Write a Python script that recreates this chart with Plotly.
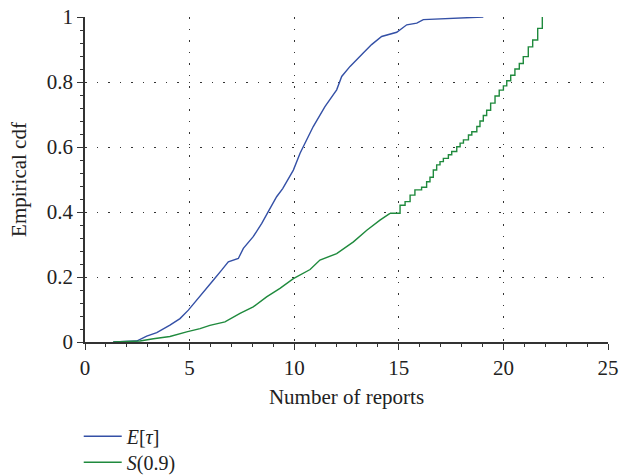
import plotly.graph_objects as go

# E[tau] empirical cdf
e_tau_x = [1.35, 2.47, 2.95, 3.43, 4.06, 4.54, 4.94, 5.42, 5.74, 6.13, 6.53, 6.85, 7.33, 7.57,
           8.04, 8.45, 8.76, 9.16, 9.45, 9.96, 10.28, 10.60, 10.91, 11.47, 12.03, 12.27, 12.67,
           13.30, 13.70, 14.18, 14.90, 15.38, 15.86, 16.17, 17.45, 19.04]
e_tau_y = [0.0, 0.003, 0.018, 0.029, 0.052, 0.072, 0.098, 0.134, 0.159, 0.190, 0.221, 0.247, 0.257, 0.288,
           0.324, 0.365, 0.401, 0.447, 0.472, 0.529, 0.581, 0.622, 0.663, 0.724, 0.776, 0.817, 0.848,
           0.889, 0.915, 0.940, 0.953, 0.976, 0.981, 0.992, 0.995, 1.0]

# S(0.9) empirical cdf: smooth-looking lower part
s_low_x = [1.35, 2.63, 3.27, 4.06, 4.86, 5.5, 5.97, 6.69, 7.41, 8.04, 8.68, 9.32, 9.96, 10.28,
           10.76, 11.23, 12.03, 12.83, 13.47, 14.10, 14.58]
s_low_y = [0.0, 0.003, 0.010, 0.017, 0.031, 0.041, 0.051, 0.062, 0.088, 0.108, 0.139, 0.165, 0.195, 0.206,
           0.223, 0.252, 0.272, 0.308, 0.344, 0.375, 0.396]

# S(0.9) upper part: visible stair steps
s_step_x = [14.58, 15.06, 15.30, 15.54, 15.77, 16.09, 16.33, 16.49, 16.65, 16.81, 16.97, 17.13, 17.37,
            17.53, 17.77, 17.93, 18.09, 18.33, 18.49, 18.73, 18.88, 19.04, 19.20, 19.39, 19.60, 19.80,
            20.00, 20.16, 20.35, 20.55, 20.76, 20.95, 21.19, 21.40, 21.64, 21.86]
s_step_y = [0.396, 0.421, 0.432, 0.452, 0.468, 0.476, 0.493, 0.507, 0.529, 0.545, 0.555, 0.565, 0.576,
            0.586, 0.601, 0.612, 0.622, 0.637, 0.647, 0.663, 0.680, 0.697, 0.713, 0.735, 0.757, 0.775,
            0.788, 0.804, 0.821, 0.840, 0.857, 0.878, 0.908, 0.929, 0.965, 1.0]

x_ticks = [0, 5, 10, 15, 20, 25]
y_ticks = [0, 0.2, 0.4, 0.6, 0.8, 1]
y_tick_labels = ["0", "0.2", "0.4", "0.6", "0.8", "1"]

BLUE = "#3450a6"
GREEN = "#1f8a3d"
AX = "#333333"
FONT = "Liberation Serif"
FS = 21

fig = go.Figure()
fig.add_trace(go.Scatter(x=e_tau_x, y=e_tau_y, mode="lines", name="<i>E</i>[<i>τ</i>]",
                         line=dict(color=BLUE, width=1.4), legend="legend"))
fig.add_trace(go.Scatter(x=s_low_x, y=s_low_y, mode="lines", name="<i>S</i>(0.9)",
                         line=dict(color=GREEN, width=1.4), legend="legend2"))
fig.add_trace(go.Scatter(x=s_step_x, y=s_step_y, mode="lines", name="<i>S</i>(0.9)",
                         line=dict(color=GREEN, width=1.4, shape="hv"), legend="legend2",
                         showlegend=False))

axis_common = dict(
    showline=True, linecolor=AX, linewidth=1.5,
    ticks="outside", ticklen=6, tickwidth=1.3, tickcolor=AX,
    showgrid=True, gridcolor=AX, gridwidth=1.3, griddash="1.5px,10px",
    zeroline=False,
    tickfont=dict(family=FONT, size=FS, color="#222"),
    title_font=dict(family=FONT, size=FS, color="#222"),
)

fig.update_xaxes(range=[0, 25], tickvals=x_ticks,
                 minor=dict(dtick=1, ticks="outside", ticklen=3, tickcolor=AX, showgrid=False),
                 title=dict(text="Number of reports", standoff=10), **axis_common)
fig.update_yaxes(range=[0, 1], tickvals=y_ticks, ticktext=y_tick_labels,
                 minor=dict(dtick=0.04, ticks="outside", ticklen=3, tickcolor=AX, showgrid=False),
                 title=dict(text="Empirical cdf", standoff=14), **axis_common)

leg_common = dict(x=-0.012, xanchor="left", yanchor="middle", itemwidth=38,
                  font=dict(family=FONT, size=20, color="#222"),
                  bgcolor="rgba(0,0,0,0)", borderwidth=0)

fig.update_layout(
    width=633, height=475,
    margin=dict(l=85, r=25, t=17, b=133, autoexpand=False),
    plot_bgcolor="white", paper_bgcolor="white",
    showlegend=True,
    legend=dict(y=-0.29, **leg_common),
    legend2=dict(y=-0.37, **leg_common),
)

fig.write_html("out.html")
